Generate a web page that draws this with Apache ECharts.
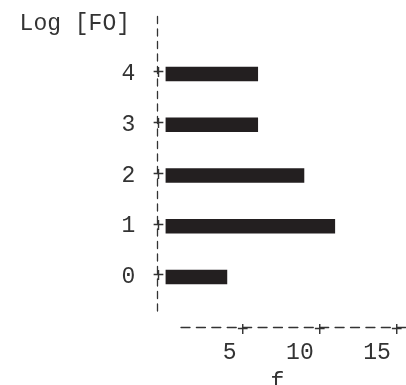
<!DOCTYPE html>
<html>
<head>
<meta charset="utf-8">
<script src="https://cdn.jsdelivr.net/npm/echarts@6/dist/echarts.min.js"></script>
<style>
  html, body { margin: 0; padding: 0; background: #fff; }
  #chart { width: 406px; height: 385px; }
</style>
</head>
<body>
<div id="chart"></div>
<script>
// Frequency of each Log [FO] class
const categories = ['0', '1', '2', '3', '4'];
const frequency = [4, 11, 9, 6, 6];
const fTicks = [5, 10, 15];

const FONT = '"Liberation Mono", "DejaVu Sans Mono", monospace';
const TEXT = '#333';
const LINE = '#333';
const BAR = '#231f20';

const chart = echarts.init(document.getElementById('chart'), null, { renderer: 'canvas' });

chart.setOption({
  animation: false,
  backgroundColor: '#fff',
  grid: [
    // bar area; the axis line of f starts one unit right of the origin
    { left: 181, right: 0, top: 48.6, bottom: 82.6, containLabel: false, outerBoundsMode: 'none' },
    // frame holding the vertical dashed Log [FO] line
    { left: 157, top: 13, height: 298, width: 10, containLabel: false, outerBoundsMode: 'none' }
  ],
  xAxis: [
    {
      gridIndex: 0, type: 'value', position: 'bottom', min: 1, max: 15.6, offset: 24.6,
      axisLine: { show: true, onZero: false, lineStyle: { color: LINE, width: 1.3, type: [9, 6.41] } },
      axisTick: { show: false },
      splitLine: { show: false },
      axisLabel: {
        customValues: fTicks, align: 'right', verticalAlign: 'middle', margin: 25.5,
        padding: [0, 6, 0, 0], color: TEXT, fontFamily: FONT, fontSize: 23
      },
      name: 'f', nameLocation: 'middle', nameGap: 56,
      nameTextStyle: { color: TEXT, fontFamily: FONT, fontSize: 23, verticalAlign: 'middle', padding: [0, 32, 0, 0] }
    },
    {
      // the "+" marks sitting on the f axis at each tick
      gridIndex: 0, type: 'value', position: 'bottom', min: 1, max: 15.6, offset: 24.6,
      axisLine: { show: false }, axisTick: { show: false }, splitLine: { show: false },
      axisLabel: {
        customValues: fTicks, formatter: () => '+', align: 'center', verticalAlign: 'middle', margin: 3.5,
        color: TEXT, fontFamily: FONT, fontSize: 20
      }
    },
    { gridIndex: 1, type: 'value', show: false }
  ],
  yAxis: [
    {
      gridIndex: 0, type: 'category', data: categories,
      axisLine: { show: false }, axisTick: { show: false }, splitLine: { show: false },
      axisLabel: {
        margin: 15.6,
        formatter: (v) => '{v|' + v + '}{p|+}',
        rich: {
          v: { width: 46, align: 'center', color: TEXT, fontFamily: FONT, fontSize: 23 },
          p: { width: 14, align: 'center', color: TEXT, fontFamily: FONT, fontSize: 20 }
        }
      }
    },
    {
      gridIndex: 1, type: 'value', min: 0, max: 1,
      axisLine: { show: true, onZero: false, lineStyle: { color: LINE, width: 1.3, type: [7, 5.5] } },
      axisTick: { show: false }, axisLabel: { show: false }, splitLine: { show: false },
      name: 'Log [FO]', nameLocation: 'end', nameGap: -11,
      nameTextStyle: {
        color: TEXT, fontFamily: FONT, fontSize: 23,
        align: 'right', verticalAlign: 'middle', padding: [0, 27, 0, 0]
      }
    }
  ],
  series: [
    {
      type: 'bar', xAxisIndex: 0, yAxisIndex: 0,
      data: frequency, barWidth: 14.5, clip: false,
      itemStyle: { color: BAR }
    }
  ]
});
</script>
</body>
</html>
